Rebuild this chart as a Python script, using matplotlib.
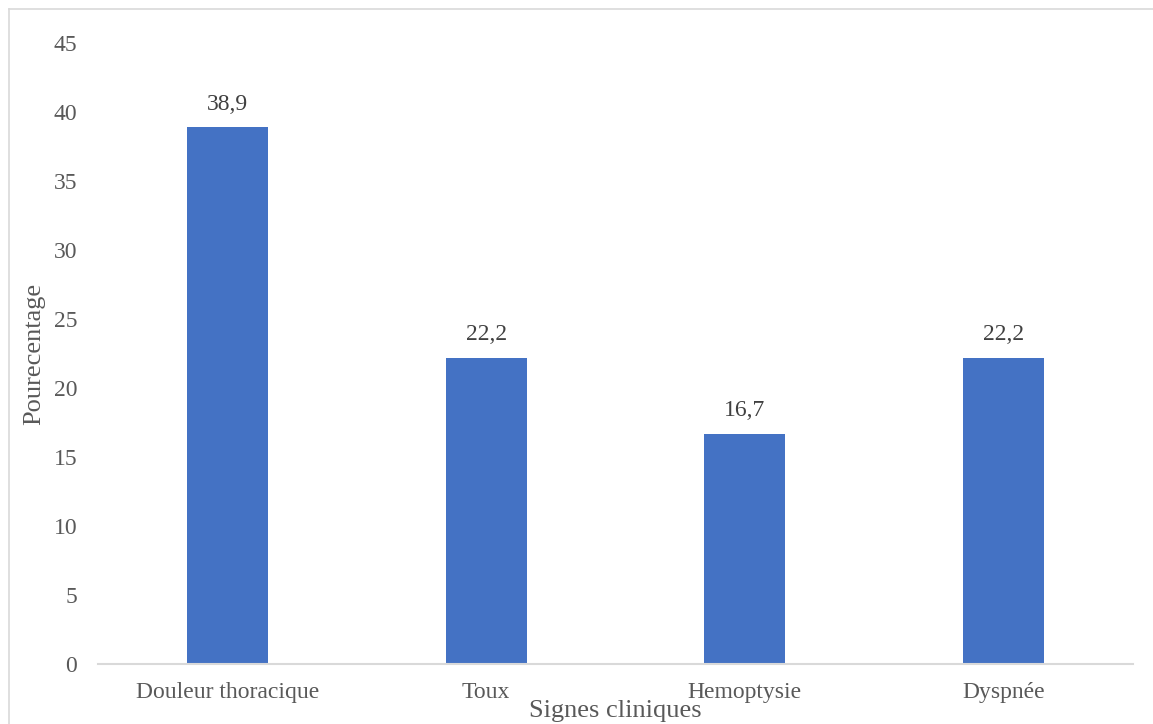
import matplotlib.pyplot as plt
from matplotlib.lines import Line2D

categories = ['Douleur thoracique', 'Toux', 'Hemoptysie', 'Dyspnée']
values = [38.9, 22.2, 16.7, 22.2]
labels = ['38,9', '22,2', '16,7', '22,2']
yticks = [0, 5, 10, 15, 20, 25, 30, 35, 40, 45]

plt.rcParams['font.family'] = ['Liberation Serif', 'DejaVu Serif']
text_color = '#595959'
bar_color = '#4472c4'
line_color = '#d9d9d9'

W, H = 1153, 724
fig = plt.figure(figsize=(W / 100, H / 100), dpi=100)
ax = fig.add_axes([98 / W, (H - 664) / H, (1133 - 98) / W, (664 - 43) / H])

x = range(len(categories))
bars = ax.bar(x, values, width=0.313, color=bar_color, zorder=2)
for b, lab in zip(bars, labels):
    ax.annotate(lab, (b.get_x() + b.get_width() / 2, b.get_height()),
                xytext=(0, 16.5), textcoords='offset points',
                ha='center', va='center', fontsize=17, color='#404040')

ax.set_xlim(-0.5, len(categories) - 0.5)
ax.set_ylim(0, 45)
ax.set_yticks(yticks)
ax.set_xticks(list(x))
ax.set_xticklabels(categories)
ax.tick_params(axis='both', length=0, labelsize=17, labelcolor=text_color)
ax.tick_params(axis='y', pad=15)
ax.tick_params(axis='x', pad=13)

for s in ['top', 'right', 'left']:
    ax.spines[s].set_visible(False)
ax.spines['bottom'].set_color(line_color)
ax.spines['bottom'].set_linewidth(1.5)

ax.set_ylabel('Pourecentage', fontsize=19, color=text_color)
ax.yaxis.set_label_coords(-64 / 1035, 0.5)
ax.set_xlabel('Signes cliniques', fontsize=19, color=text_color)
ax.xaxis.set_label_coords(0.5, -47 / 621)
ax.xaxis.label.set_va('center')
ax.yaxis.label.set_va('center')

# light outer frame (cropped on right/bottom)
fig.add_artist(Line2D([8.5 / W, 1], [1 - 8.5 / H, 1 - 8.5 / H], color=line_color, lw=1.2))
fig.add_artist(Line2D([8.5 / W, 8.5 / W], [0, 1 - 8.5 / H], color=line_color, lw=1.2))

fig.savefig('out.png', dpi=100)
